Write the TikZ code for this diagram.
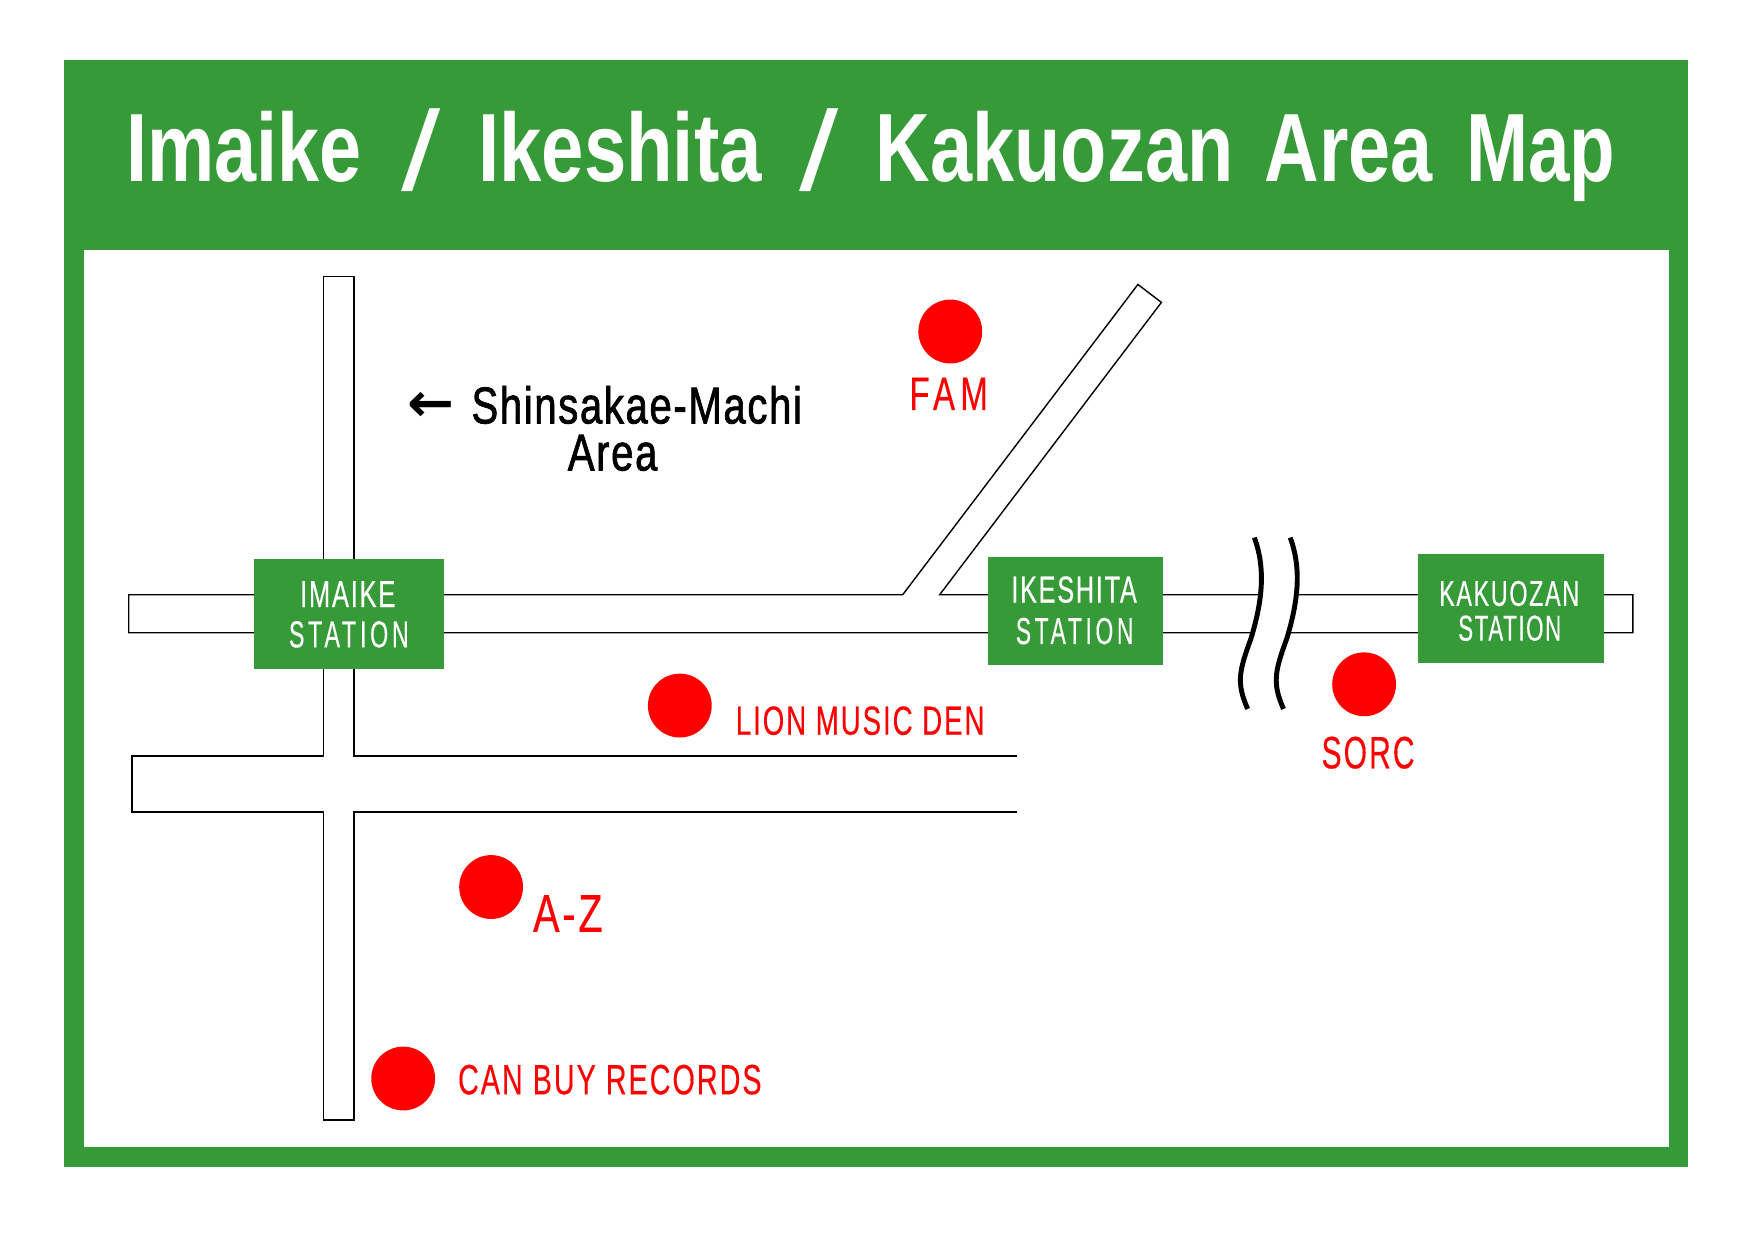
\documentclass[tikz,border=0pt]{standalone}
\usepackage{fontspec}
\usepackage{graphicx}
\setmainfont{Liberation Sans}
\newfontfamily\arrowfont{DejaVu Sans Bold}
\newfontfamily\labfont[LetterSpace=7,FakeBold=0.4]{Liberation Sans}
\newfontfamily\widefont[LetterSpace=16,FakeBold=0.4]{Liberation Sans}
\newfontfamily\blackfont[LetterSpace=4,FakeBold=1.6]{Liberation Sans}
\definecolor{mapgreen}{RGB}{53,154,55}
\newcommand{\fitt}[3]{\resizebox{#1pt}{#2pt}{\rule{0pt}{0.716em}\smash{#3}}}
\newcommand{\titleslash}{\raisebox{-8pt}{\resizebox{35pt}{73pt}{\mdseries /}}}
\tikzset{
  road/.style={draw=black,line width=1.25pt,fill=white,line join=miter},
  stationbox/.style={fill=mapgreen,draw=none},
  shop/.style={circle,fill=red,draw=none,minimum size=57pt,inner sep=0pt},
  lbl/.style={anchor=base west,inner sep=0pt,outer sep=0pt},
  brk/.style={draw=black,line width=4.4pt}
}
\begin{document}
\begin{tikzpicture}[x=1pt,y=-1pt]
\useasboundingbox (0,0) rectangle (1567,1108);
% frame
\fill[mapgreen] (57,54) rectangle (1507,1042);
\fill[white] (75,223) rectangle (1490,1024);
\node[lbl,text=white] (title) at (113,162) {\bfseries\fitt{210}{62}{Imaike}\hspace{35pt}\titleslash\hspace{34pt}\fitt{253}{62}{Ikeshita}\hspace{34pt}\titleslash\hspace{33pt}\fitt{319}{62}{Kakuozan}\hspace{28pt}\fitt{150}{62}{Area}\hspace{30pt}\fitt{133}{62}{Map}};
% roads
\draw[road] (115,531) -- (806,531) -- (1016,254) -- (1037,270) -- (839,531) -- (1458,531) -- (1458,565) -- (115,565) -- cycle;
\fill[white] (289,676) rectangle (316,724);
\draw[road] (289,565) -- (289,247) -- (316,247) -- (316,565);
\draw[road] (289,565) -- (289,675) -- (118,675) -- (118,725) -- (289,725) -- (289,1000) -- (316,1000) -- (316,725) -- (908,725);
\draw[road] (316,565) -- (316,675) -- (908,675);
% break
\fill[white] (1120,480) .. controls (1131,510) and (1126,540) .. (1117,570) .. controls (1106,600) and (1104,610) .. (1114,633) -- (1146,633) .. controls (1136,610) and (1138,600) .. (1149,570) .. controls (1158,540) and (1163,510) .. (1152,480) -- cycle;
\draw[brk] (1120,480) .. controls (1131,510) and (1126,540) .. (1117,570) .. controls (1106,600) and (1104,610) .. (1114,633);
\draw[brk] (1152,480) .. controls (1163,510) and (1158,540) .. (1149,570) .. controls (1138,600) and (1136,610) .. (1146,633);
% stations
\fill[stationbox] (227,499) rectangle (396,597);
\fill[stationbox] (882,497) rectangle (1038,594);
\fill[stationbox] (1266,495) rectangle (1432,592);
\node[lbl,text=white] (imaikeA) at (268,542) {\fitt{85}{24}{\labfont IMAIKE}};
\node[lbl,text=white] (imaikeB) at (258,578) {\fitt{107}{24}{\widefont STATION}};
\node[lbl,text=white] (ikeshitaA) at (903,538) {\fitt{112}{24}{\labfont IKESHITA}};
\node[lbl,text=white] (ikeshitaB) at (907,575) {\fitt{105}{24}{\widefont STATION}};
\node[lbl,text=white] (kakuozanA) at (1285,541) {\fitt{125}{23}{\labfont KAKUOZAN}};
\node[lbl,text=white] (kakuozanB) at (1302,572) {\fitt{92}{23}{\labfont STATION}};
% shops
\node[shop] (fam) at (848.5,296) {};
\node[shop] (lion) at (607,630) {};
\node[shop] (sorc) at (1218,611) {};
\node[shop] (az) at (438.5,792) {};
\node[shop] (canbuy) at (360,963) {};
\node[lbl,text=red] (famL) at (812,366) {\fitt{70}{30}{\widefont FAM}};
\node[lbl,text=red] (lionL) at (657,656) {\fitt{222}{26}{\labfont LION MUSIC DEN}};
\node[lbl,text=red] (sorcL) at (1180,686) {\fitt{83}{29}{\labfont SORC}};
\node[lbl,text=red] (azL) at (476,832) {\fitt{62}{34}{\labfont A-Z}};
\node[lbl,text=red] (canbuyL) at (409,977) {\fitt{271}{27}{\labfont CAN BUY RECORDS}};
% direction note
\node[lbl] (arrow) at (364,376) {\resizebox{42pt}{26pt}{\arrowfont ←}};
\node[lbl] (shin) at (421,378) {\fitt{295}{33}{\blackfont Shinsakae-Machi}};
\node[lbl] (area) at (507,420) {\fitt{80}{33}{\blackfont Area}};
\end{tikzpicture}
\end{document}
